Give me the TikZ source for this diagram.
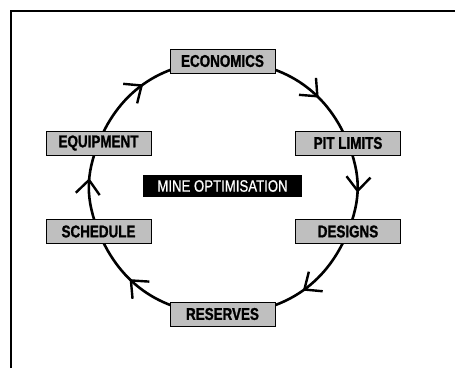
\documentclass[tikz,border=0pt]{standalone}
\usepackage{fontspec}
\setmainfont{Liberation Sans}
\newfontfamily\stagefont{Liberation Sans Bold}[FakeStretch=0.79,FakeBold=1.2]
\newfontfamily\hubfont{Liberation Sans}[FakeStretch=0.8,FakeBold=0.6]
\usetikzlibrary{arrows.meta,decorations.markings,backgrounds}

\begin{document}
\begin{tikzpicture}[x=1pt,y=1pt,
    stagebox/.style={draw=black,line width=1pt,fill=black!25,
      minimum width=105pt,minimum height=24pt,inner sep=0pt,
      font=\stagefont\fontsize{17}{18}\selectfont},
    hubbox/.style={fill=black,text=white,minimum width=159pt,
      minimum height=22pt,inner sep=0pt,
      font=\hubfont\fontsize{16.5}{17}\selectfont},
    loopedge/.style={line width=2.6pt,postaction={decorate},
      decoration={markings,mark=at position #1 with
        {\arrow{Straight Barb[length=14pt,width=24pt,line width=2.4pt]}}}},
    loopedge/.default=0.6]
  \useasboundingbox (0,0) rectangle (455,368);
  % frame
  \draw[line width=1.8pt] (11,0) -- (11,357) -- (455,357);

  \node[stagebox] (eco) at (222.5,307) {ECONOMICS};
  \node[stagebox] (pit) at (348,225) {PIT LIMITS};
  \node[stagebox] (des) at (348,136.5) {DESIGNS};
  \node[stagebox] (res) at (222.5,54) {RESERVES};
  \node[stagebox] (sch) at (98.5,136.5) {SCHEDULE};
  \node[stagebox] (equ) at (98.5,225) {EQUIPMENT};
  \node[hubbox] (mine) at (222.5,182) {MINE OPTIMISATION};

  \begin{scope}[on background layer]
    \draw[loopedge=0.66] (eco.center) to[out=0,in=112] (pit.center);
    \draw[loopedge=0.56] (pit.center) to[out=-68,in=68] (des.center);
    \draw[loopedge=0.47] (des.center) to[out=-112,in=0] (res.center);
    \draw[loopedge=0.64] (res.center) to[out=180,in=-68] (sch.center);
    \draw[loopedge=0.6] (sch.center) to[out=112,in=-112] (equ.center);
    \draw[loopedge=0.47] (equ.center) to[out=68,in=180] (eco.center);
  \end{scope}
\end{tikzpicture}
\end{document}
